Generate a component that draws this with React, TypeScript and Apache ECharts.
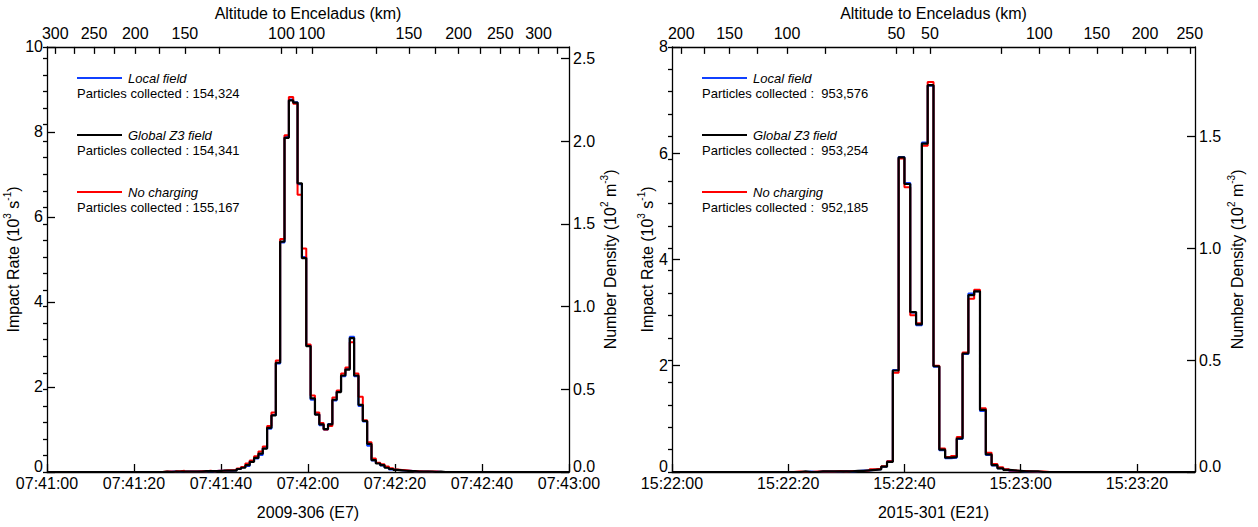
import React, { useEffect, useRef } from "react";
import * as echarts from "echarts";

const FONT = "'Liberation Sans', Arial, Helvetica, sans-serif";
const BLUE = "#1040ff";
const RED = "#ff0000";
const BLACK = "#000000";

// ---------- Panel 1 : 2009-306 (E7), seconds after 07:41:00, 1-s bins ----------
const e7FirstBin = 25.6;
const e7Global = [
  0.0, 0.01, 0.0, 0.01, 0.01, 0.01, 0.01, 0.01, 0.01, 0.01, // 25.6 .. 34.6
  0.02, 0.02, 0.02, 0.02, 0.03, 0.03, 0.03, 0.03, 0.07, 0.1, // 35.6 .. 44.6
  0.16, 0.24, 0.33, 0.43, 0.55, 1.04, 1.33, 2.57, 5.42, 7.86, // 45.6 .. 54.6
  8.74, 8.69, 6.79, 5.03, 2.96, 1.73, 1.35, 1.12, 1.01, 1.12, // 55.6 .. 64.6
  1.7, 1.88, 2.27, 2.41, 3.15, 2.27, 1.58, 1.2, 0.66, 0.28, // 65.6 .. 74.6
  0.2, 0.16, 0.1, 0.07, 0.05, 0.04, 0.03, 0.02, 0.02, 0.01, // 75.6 .. 84.6
  0.01, 0.01, 0.01, 0.0, 0.01, 0.0, 0.0, 0.0, // 85.6 .. 92.6
];
const e7Local = [
  0.0, 0.0, 0.01, 0.01, 0.0, 0.01, 0.01, 0.01, 0.01, 0.02,
  0.02, 0.02, 0.02, 0.03, 0.03, 0.03, 0.03, 0.04, 0.07, 0.11,
  0.14, 0.25, 0.32, 0.4, 0.56, 1.02, 1.34, 2.55, 5.4, 7.88,
  8.76, 8.7, 6.77, 5.06, 2.98, 1.7, 1.36, 1.1, 1.0, 1.13,
  1.68, 1.9, 2.25, 2.43, 3.18, 2.25, 1.55, 1.19, 0.62, 0.27,
  0.21, 0.15, 0.11, 0.06, 0.05, 0.04, 0.03, 0.03, 0.02, 0.01,
  0.01, 0.01, 0.0, 0.01, 0.0, 0.0, 0.0, 0.0,
];
const e7NoCharge = [
  0.0, 0.01, 0.01, 0.0, 0.02, 0.03, 0.01, 0.01, 0.01, 0.02,
  0.02, 0.03, 0.02, 0.03, 0.03, 0.04, 0.04, 0.05, 0.08, 0.12,
  0.2, 0.27, 0.37, 0.48, 0.6, 1.08, 1.4, 2.62, 5.48, 7.92,
  8.82, 8.66, 6.52, 5.26, 3.0, 1.8, 1.4, 1.15, 1.0, 1.08,
  1.75, 1.92, 2.32, 2.46, 3.05, 2.32, 1.77, 1.22, 0.7, 0.32,
  0.22, 0.18, 0.13, 0.09, 0.06, 0.05, 0.04, 0.03, 0.02, 0.02,
  0.01, 0.01, 0.01, 0.01, 0.0, 0.0, 0.0, 0.0,
];
const e7TimeTicks = [0, 20, 40, 60, 80, 100, 120];
const e7TimeLabels = ["07:41:00", "07:41:20", "07:41:40", "07:42:00", "07:42:20", "07:42:40", "07:43:00"];
const e7AltTickTimes = [1.9, 6.2, 10.8, 15.4, 20.3, 25.7, 31.7, 39.5, 53.9, 57.4, 60.9, 75.6, 83.2, 89.2, 94.6, 99.6, 104.2, 108.6, 113.0, 117.2];
const e7AltTickLabels = ["300", "", "250", "", "200", "", "150", "", "100", "", "100", "", "150", "", "200", "", "250", "", "300", ""];
const e7DensityTicks = [0, 0.5, 1.0, 1.5, 2.0, 2.5];
const e7Counts = ["154,324", "154,341", "155,167"];

// ---------- Panel 2 : 2015-301 (E21), seconds after 15:22:00, 1-s bins ----------
const e21FirstBin = 20;
const e21Global = [
  0.0, 0.0, 0.01, 0.0, 0.0, 0.01, 0.01, 0.01, 0.01, 0.01, // 20 .. 29
  0.01, 0.02, 0.02, 0.03, 0.04, 0.05, 0.1, 0.19, 1.91, 5.92, // 30 .. 39
  5.42, 3.01, 2.78, 6.18, 7.28, 1.99, 0.42, 0.27, 0.28, 0.63, // 40 .. 49
  2.23, 3.33, 3.4, 1.17, 0.33, 0.13, 0.07, 0.04, 0.03, 0.02, // 50 .. 59
  0.01, 0.01, 0.01, 0.0, 0.0, // 60 .. 64
];
const e21Local = [
  0.0, 0.0, 0.0, 0.01, 0.0, 0.01, 0.01, 0.01, 0.01, 0.02,
  0.01, 0.02, 0.03, 0.03, 0.04, 0.05, 0.1, 0.2, 1.92, 5.93,
  5.44, 3.0, 2.76, 6.2, 7.27, 1.98, 0.41, 0.26, 0.27, 0.62,
  2.22, 3.36, 3.4, 1.15, 0.32, 0.12, 0.07, 0.04, 0.02, 0.02,
  0.01, 0.01, 0.0, 0.0, 0.0,
];
const e21NoCharge = [
  0.0, 0.01, 0.0, 0.0, 0.01, 0.01, 0.01, 0.01, 0.02, 0.01,
  0.02, 0.02, 0.02, 0.03, 0.05, 0.06, 0.11, 0.2, 1.87, 5.9,
  5.36, 2.95, 2.8, 6.14, 7.34, 2.0, 0.44, 0.28, 0.3, 0.66,
  2.25, 3.26, 3.43, 1.2, 0.36, 0.15, 0.09, 0.05, 0.03, 0.02,
  0.02, 0.01, 0.01, 0.01, 0.0,
];
const e21TimeTicks = [0, 20, 40, 60, 80];
const e21TimeLabels = ["15:22:00", "15:22:20", "15:22:40", "15:23:00", "15:23:20"];
const e21AltTickTimes = [1.6, 5.6, 9.9, 14.6, 19.8, 26.4, 38.6, 41.5, 44.4, 56.6, 63.2, 68.4, 73.1, 77.4, 81.4, 85.2, 89.1];
const e21AltTickLabels = ["200", "", "150", "", "100", "", "50", "", "50", "", "100", "", "150", "", "200", "", "250"];
const e21DensityTicks = [0, 0.5, 1.0, 1.5];
const e21Counts = ["953,576", "953,254", "952,185"];

const legendNames = ["Local field", "Global Z3 field", "No charging"];
const legendColors = [BLUE, BLACK, RED];

function stepData(first: number, vals: number[], min: number, max: number) {
  const d: number[][] = [[min, 0]];
  vals.forEach((v, i) => d.push([first + i, v]));
  d.push([first + vals.length, 0]);
  d.push([max, 0]);
  return d;
}

function lookup(times: number[], labels: string[]) {
  return (v: number) => {
    for (let i = 0; i < times.length; i++) if (Math.abs(times[i] - v) < 1e-6) return labels[i];
    return "";
  };
}

const txt = { color: "#000", fontFamily: FONT, fontSize: 16 };
const axLine = { show: true, onZero: false, lineStyle: { color: "#000", width: 1.3 } };
const tickStyle = { color: "#000", width: 1.3 };

const richName = {
  color: "#000",
  fontFamily: FONT,
  fontSize: 16,
  rich: {
    n: { fontFamily: FONT, fontSize: 16, color: "#000", lineHeight: 22 },
    s: { fontFamily: FONT, fontSize: 10, color: "#000", lineHeight: 12, verticalAlign: "top" },
  },
};

// value axis labels: the zero label sits just above the bottom axis line
const yLabelRich = {
  z: { fontFamily: FONT, fontSize: 16, color: "#000", padding: [0, 0, 12, 0] },
};

function panelAxes(
  g: number,
  max: number,
  timeTicks: number[],
  timeLabels: string[],
  altTimes: number[],
  altLabels: string[],
  title: string,
  yMax: number,
  yInterval: number,
  dMax: number,
  dTicks: number[],
  leftGap: number,
  rightGap: number
) {
  const xAxes = [
    {
      type: "value",
      gridIndex: g,
      position: "bottom",
      min: 0,
      max,
      interval: 20,
      axisLine: axLine,
      axisTick: { inside: true, length: 8, lineStyle: tickStyle },
      axisLabel: { ...txt, margin: 3, formatter: lookup(timeTicks, timeLabels) },
      splitLine: { show: false },
      name: title,
      nameLocation: "middle",
      nameGap: 32,
      nameTextStyle: { ...txt },
    },
    {
      type: "value",
      gridIndex: g,
      position: "top",
      min: 0,
      max,
      axisLine: axLine,
      axisTick: { inside: true, length: 7, lineStyle: tickStyle, customValues: altTimes },
      axisLabel: {
        ...txt,
        margin: 5,
        customValues: altTimes.filter((_, i) => altLabels[i] !== ""),
        formatter: lookup(altTimes, altLabels),
      },
      splitLine: { show: false },
      name: "Altitude to Enceladus (km)",
      nameLocation: "middle",
      nameGap: 22,
      nameTextStyle: { ...txt },
    },
  ];
  const yAxes = [
    {
      type: "value",
      gridIndex: g,
      position: "left",
      min: 0,
      max: yMax,
      interval: yInterval,
      axisLine: axLine,
      axisTick: { inside: true, length: 8, lineStyle: tickStyle },
      axisLabel: {
        ...txt,
        margin: 4,
        formatter: (v: number) => (v === 0 ? "{z|0}" : String(v)),
        rich: yLabelRich,
      },
      splitLine: { show: false },
      name: "{n|Impact Rate (10}{s|3}{n| s}{s|-1}{n|)}",
      nameLocation: "middle",
      nameRotate: 90,
      nameGap: leftGap,
      nameTextStyle: richName,
    },
    {
      type: "value",
      gridIndex: g,
      position: "right",
      min: 0,
      max: dMax,
      axisLine: axLine,
      axisTick: { inside: true, length: 8, lineStyle: tickStyle, customValues: dTicks },
      axisLabel: {
        ...txt,
        margin: 4,
        customValues: dTicks,
        formatter: (v: number) => (v === 0 ? "{z|0.0}" : v.toFixed(1)),
        rich: yLabelRich,
      },
      splitLine: { show: false },
      name: "{n|Number Density (10}{s|2}{n| m}{s|-3}{n|)}",
      nameLocation: "middle",
      nameRotate: 90,
      nameGap: rightGap,
      nameTextStyle: richName,
    },
    {
      type: "value",
      gridIndex: g,
      position: "right",
      min: 0,
      max: dMax,
      interval: 0.1,
      axisLine: { show: false },
      axisTick: { inside: true, length: 4, lineStyle: tickStyle },
      axisLabel: { show: false },
      splitLine: { show: false },
    },
  ];
  return { xAxes, yAxes };
}

function legendGraphics(x0: number, y0: number, counts: string[], sep: string) {
  const els: any[] = [];
  legendNames.forEach((name, i) => {
    const y = y0 + i * 57;
    els.push({
      type: "line",
      shape: { x1: x0, y1: y, x2: x0 + 45, y2: y },
      style: { stroke: legendColors[i], lineWidth: 1.8 },
      silent: true,
    });
    els.push({
      type: "text",
      x: x0 + 51,
      y,
      style: {
        text: name,
        fill: "#000",
        fontFamily: FONT,
        fontSize: 13,
        fontStyle: "italic",
        verticalAlign: "middle",
        align: "left",
      },
      silent: true,
    });
    els.push({
      type: "text",
      x: x0,
      y: y + 15,
      style: {
        text: "Particles collected :" + sep + counts[i],
        fill: "#000",
        fontFamily: FONT,
        fontSize: 13,
        verticalAlign: "middle",
        align: "left",
      },
      silent: true,
    });
  });
  return els;
}

function lineSeries(data: number[][], color: string, width: number, xi: number, yi: number) {
  return {
    type: "line",
    step: "end",
    data,
    xAxisIndex: xi,
    yAxisIndex: yi,
    showSymbol: false,
    symbol: "none",
    silent: true,
    lineStyle: { color, width },
    itemStyle: { color },
    clip: true,
  };
}

export default function App() {
  const ref = useRef<HTMLDivElement>(null);
  useEffect(() => {
    if (!ref.current) return;
    const chart = echarts.init(ref.current, null, { renderer: "svg" });
    const p1 = panelAxes(0, 120, e7TimeTicks, e7TimeLabels, e7AltTickTimes, e7AltTickLabels, "2009-306 (E7)", 10, 2, 2.57, e7DensityTicks, 19, 27);
    const p2 = panelAxes(1, 90, e21TimeTicks, e21TimeLabels, e21AltTickTimes, e21AltTickLabels, "2015-301 (E21)", 8, 2, 1.9, e21DensityTicks, 14, 31);
    const option: any = {
      animation: false,
      backgroundColor: "#ffffff",
      textStyle: { fontFamily: FONT },
      grid: [
        { left: 47, top: 37, width: 522, height: 435 },
        { left: 672, top: 37, width: 523, height: 435 },
      ],
      xAxis: [...p1.xAxes, ...p2.xAxes],
      yAxis: [...p1.yAxes, ...p2.yAxes],
      series: [
        lineSeries(stepData(e7FirstBin, e7Local, 0, 120), BLUE, 2, 0, 0),
        lineSeries(stepData(e7FirstBin, e7NoCharge, 0, 120), RED, 2, 0, 0),
        lineSeries(stepData(e7FirstBin, e7Global, 0, 120), BLACK, 2.2, 0, 0),
        lineSeries(stepData(e21FirstBin, e21Local, 0, 90), BLUE, 2, 2, 3),
        lineSeries(stepData(e21FirstBin, e21NoCharge, 0, 90), RED, 2, 2, 3),
        lineSeries(stepData(e21FirstBin, e21Global, 0, 90), BLACK, 2.2, 2, 3),
      ],
      graphic: [...legendGraphics(77, 78, e7Counts, " "), ...legendGraphics(702, 78, e21Counts, "  ")],
    };
    chart.setOption(option);
    return () => chart.dispose();
  }, []);
  return (
    <div
      ref={ref}
      style={{ position: "fixed", left: 0, top: 0, width: 1258, height: 527, background: "#fff" }}
    />
  );
}
